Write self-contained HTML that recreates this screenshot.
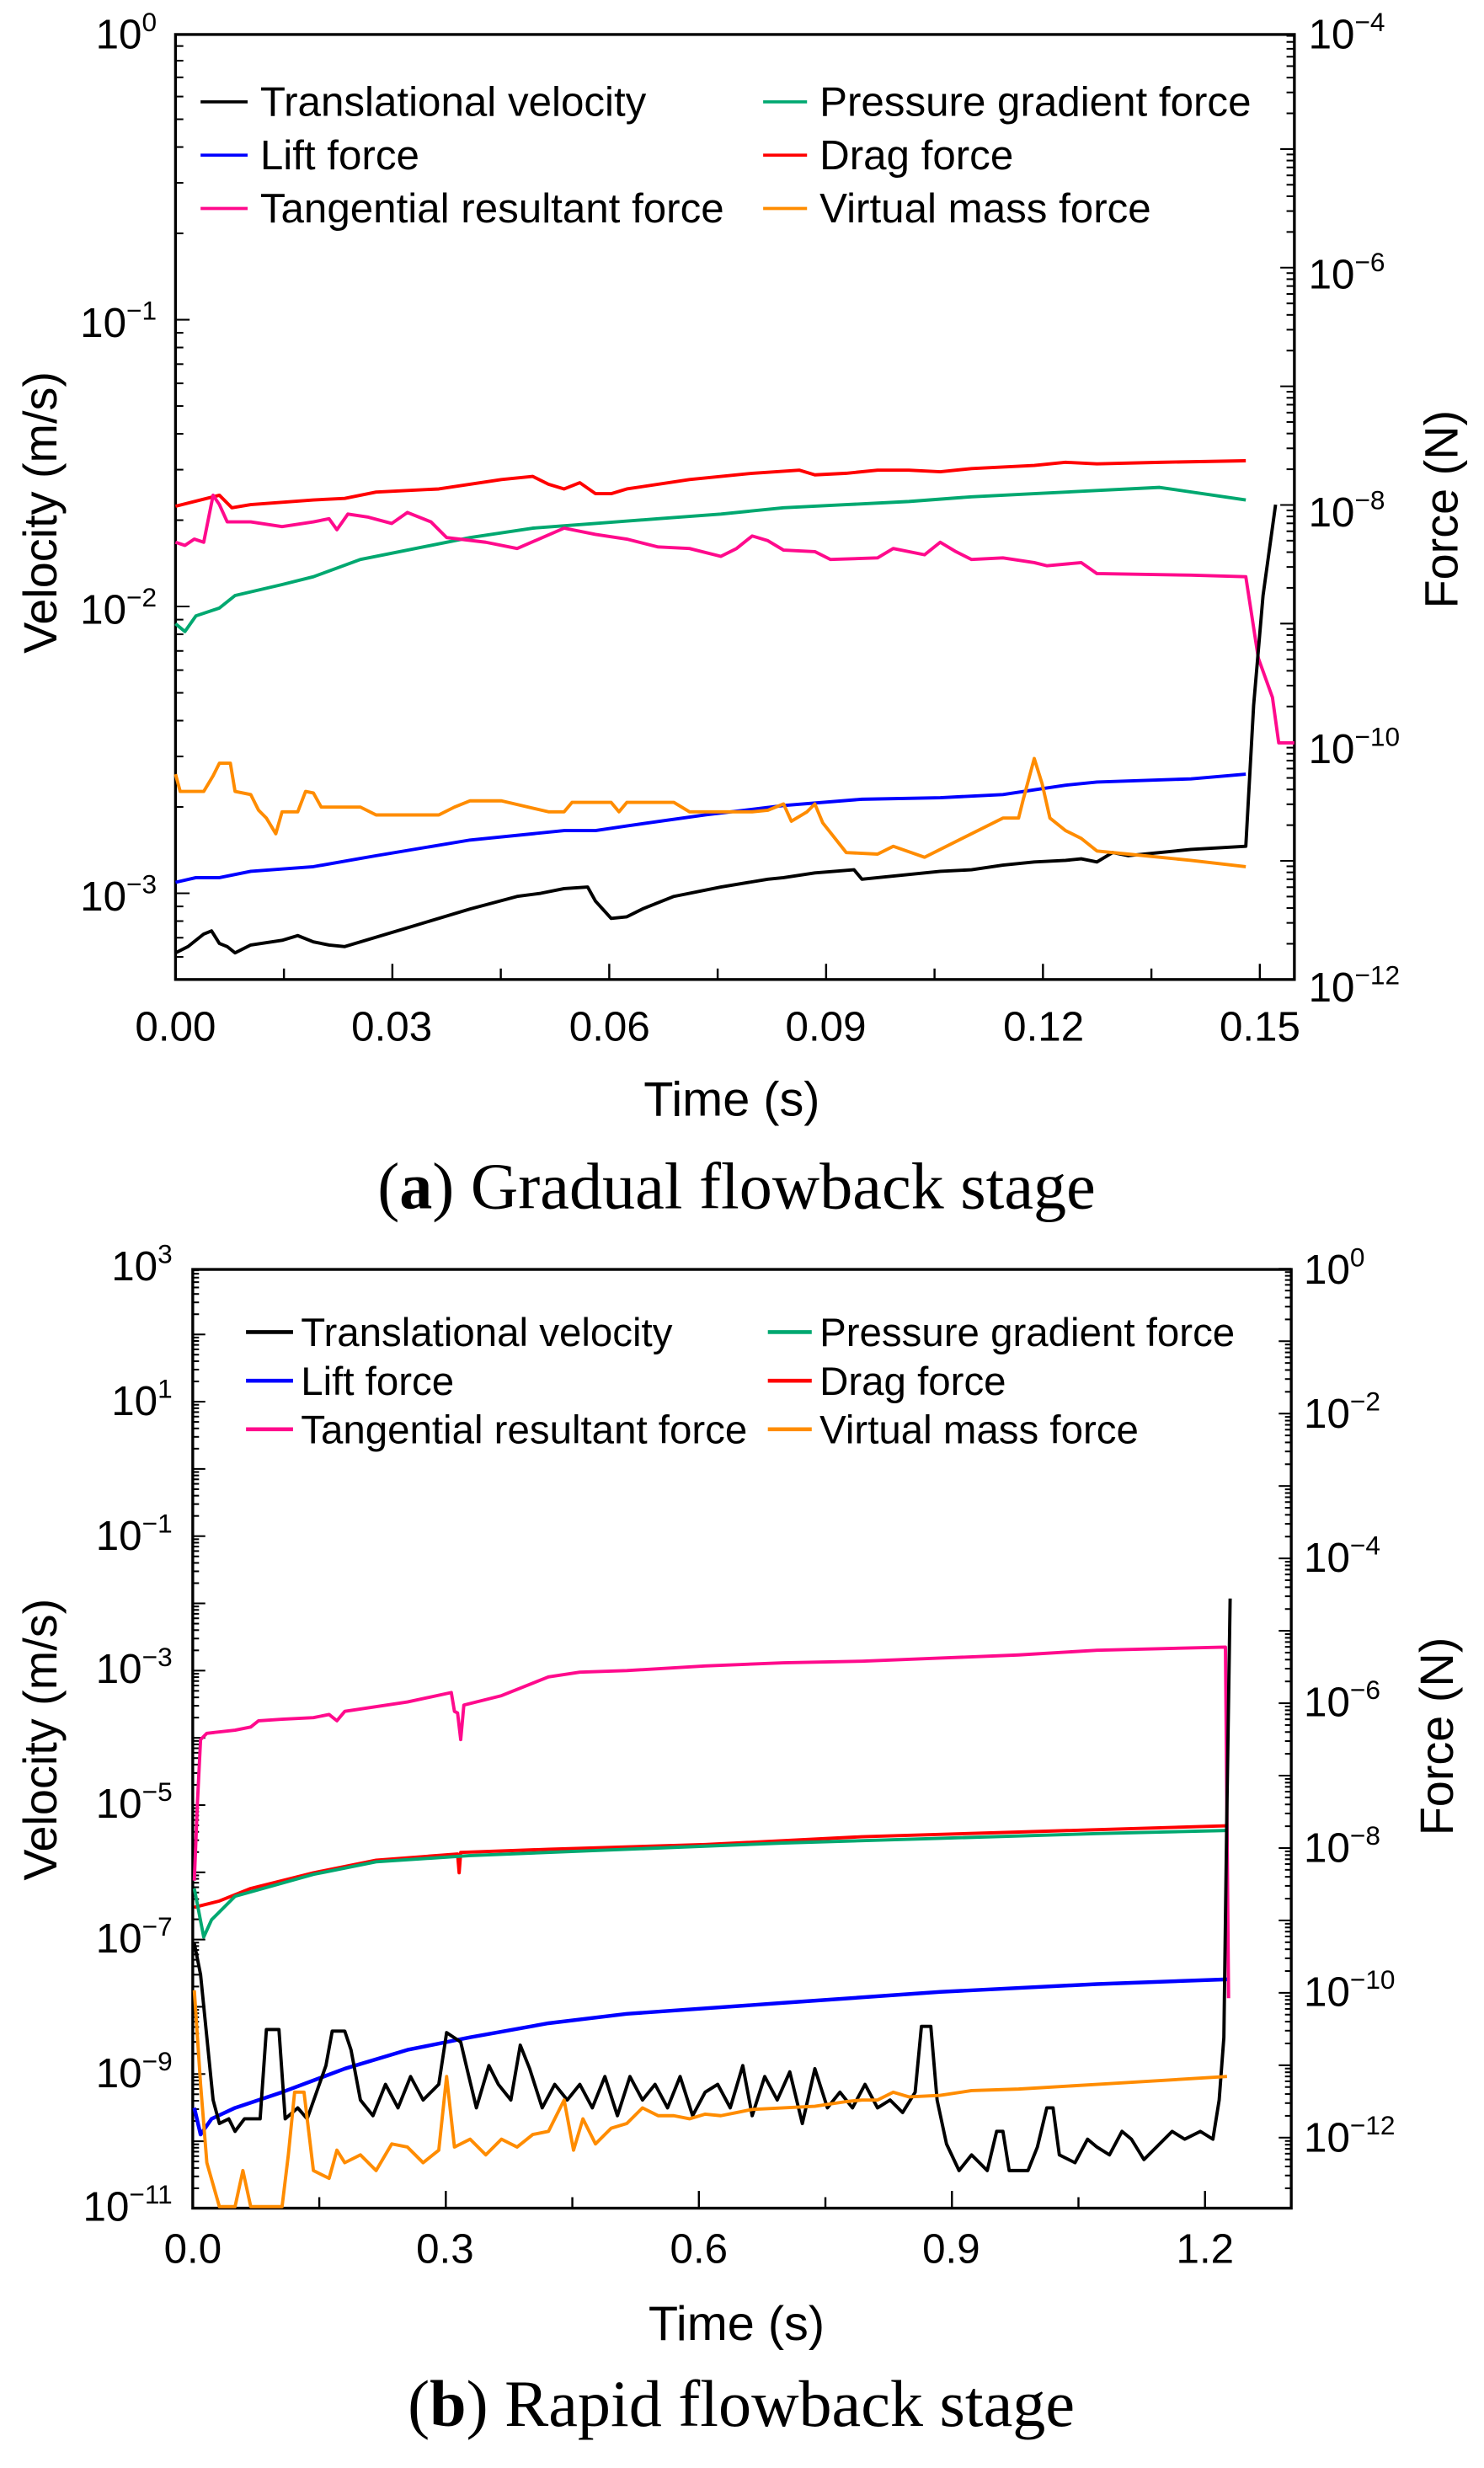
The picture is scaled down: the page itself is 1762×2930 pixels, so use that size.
<!DOCTYPE html>
<html><head><meta charset="utf-8">
<style>
html,body{margin:0;padding:0;background:#fff;}
svg{display:block;}
text{font-family:"Liberation Sans",Arial,sans-serif;fill:#000;}
.cap{font-family:"Liberation Serif",serif;font-size:42px;}
</style></head>
<body>
<svg id="s" width="1762" height="2930" viewBox="0 0 947 1574.8" preserveAspectRatio="none" xmlns="http://www.w3.org/2000/svg">
<rect width="947" height="1575" fill="#fff"/>
<g id="g"></g>
<!-- Panel a labels -->
<g font-size="26.5">
<text x="100" y="31" text-anchor="end">10<tspan dy="-11" font-size="17">0</tspan></text>
<text x="100" y="215" text-anchor="end">10<tspan dy="-11" font-size="17">−1</tspan></text>
<text x="100" y="398" text-anchor="end">10<tspan dy="-11" font-size="17">−2</tspan></text>
<text x="100" y="581" text-anchor="end">10<tspan dy="-11" font-size="17">−3</tspan></text>
<text x="835" y="31">10<tspan dy="-11" font-size="17">−4</tspan></text>
<text x="835" y="184">10<tspan dy="-11" font-size="17">−6</tspan></text>
<text x="835" y="336">10<tspan dy="-11" font-size="17">−8</tspan></text>
<text x="835" y="487">10<tspan dy="-11" font-size="17">−10</tspan></text>
<text x="835" y="639">10<tspan dy="-11" font-size="17">−12</tspan></text>
<text x="112" y="664" text-anchor="middle">0.00</text>
<text x="250" y="664" text-anchor="middle">0.03</text>
<text x="389" y="664" text-anchor="middle">0.06</text>
<text x="527" y="664" text-anchor="middle">0.09</text>
<text x="666" y="664" text-anchor="middle">0.12</text>
<text x="804" y="664" text-anchor="middle">0.15</text>
</g>
<text x="467" y="712" font-size="31" text-anchor="middle">Time (s)</text>
<text transform="translate(36,327) rotate(-90)" font-size="30" text-anchor="middle">Velocity (m/s)</text>
<text transform="translate(930,325) rotate(-90)" font-size="30" text-anchor="middle">Force (N)</text>
<text class="cap" x="470" y="771" text-anchor="middle">(<tspan font-weight="bold">a</tspan>) Gradual flowback stage</text>
<g font-size="26.5">
<line x1="128" y1="65" x2="158" y2="65" stroke="#000" stroke-width="2"/><text x="166" y="74">Translational velocity</text>
<line x1="128" y1="99" x2="158" y2="99" stroke="#0000ff" stroke-width="2"/><text x="166" y="108">Lift force</text>
<line x1="128" y1="133" x2="158" y2="133" stroke="#ff0a8c" stroke-width="2"/><text x="166" y="142">Tangential resultant force</text>
<line x1="487" y1="65" x2="515" y2="65" stroke="#00a870" stroke-width="2"/><text x="523" y="74">Pressure gradient force</text>
<line x1="487" y1="99" x2="515" y2="99" stroke="#ff0000" stroke-width="2"/><text x="523" y="108">Drag force</text>
<line x1="487" y1="133" x2="515" y2="133" stroke="#ff8c00" stroke-width="2"/><text x="523" y="142">Virtual mass force</text>
</g>
<!-- Panel b labels -->
<g font-size="26.5">
<text x="110" y="817" text-anchor="end">10<tspan dy="-11" font-size="17">3</tspan></text>
<text x="110" y="903" text-anchor="end">10<tspan dy="-11" font-size="17">1</tspan></text>
<text x="110" y="989" text-anchor="end">10<tspan dy="-11" font-size="17">−1</tspan></text>
<text x="110" y="1074" text-anchor="end">10<tspan dy="-11" font-size="17">−3</tspan></text>
<text x="110" y="1160" text-anchor="end">10<tspan dy="-11" font-size="17">−5</tspan></text>
<text x="110" y="1246" text-anchor="end">10<tspan dy="-11" font-size="17">−7</tspan></text>
<text x="110" y="1332" text-anchor="end">10<tspan dy="-11" font-size="17">−9</tspan></text>
<text x="110" y="1417" text-anchor="end">10<tspan dy="-11" font-size="17">−11</tspan></text>
<text x="832" y="819">10<tspan dy="-11" font-size="17">0</tspan></text>
<text x="832" y="911">10<tspan dy="-11" font-size="17">−2</tspan></text>
<text x="832" y="1003">10<tspan dy="-11" font-size="17">−4</tspan></text>
<text x="832" y="1095">10<tspan dy="-11" font-size="17">−6</tspan></text>
<text x="832" y="1188">10<tspan dy="-11" font-size="17">−8</tspan></text>
<text x="832" y="1280">10<tspan dy="-11" font-size="17">−10</tspan></text>
<text x="832" y="1373">10<tspan dy="-11" font-size="17">−12</tspan></text>
<text x="123" y="1444" text-anchor="middle">0.0</text>
<text x="284" y="1444" text-anchor="middle">0.3</text>
<text x="446" y="1444" text-anchor="middle">0.6</text>
<text x="607" y="1444" text-anchor="middle">0.9</text>
<text x="769" y="1444" text-anchor="middle">1.2</text>
</g>
<text x="470" y="1493" font-size="31" text-anchor="middle">Time (s)</text>
<text transform="translate(36,1110) rotate(-90)" font-size="30" text-anchor="middle">Velocity (m/s)</text>
<text transform="translate(927,1108) rotate(-90)" font-size="30" text-anchor="middle">Force (N)</text>
<text class="cap" x="473" y="1548" text-anchor="middle">(<tspan font-weight="bold">b</tspan>) Rapid flowback stage</text>
<g font-size="25.5">
<line x1="157" y1="850" x2="187" y2="850" stroke="#000" stroke-width="2.5"/><text x="192" y="859">Translational velocity</text>
<line x1="157" y1="881" x2="187" y2="881" stroke="#0000ff" stroke-width="2.5"/><text x="192" y="890">Lift force</text>
<line x1="157" y1="912" x2="187" y2="912" stroke="#ff0a8c" stroke-width="2.5"/><text x="192" y="921">Tangential resultant force</text>
<line x1="490" y1="850" x2="518" y2="850" stroke="#00a870" stroke-width="2.5"/><text x="523" y="859">Pressure gradient force</text>
<line x1="490" y1="881" x2="518" y2="881" stroke="#ff0000" stroke-width="2.5"/><text x="523" y="890">Drag force</text>
<line x1="490" y1="912" x2="518" y2="912" stroke="#ff8c00" stroke-width="2.5"/><text x="523" y="921">Virtual mass force</text>
</g>
</svg>
<script>
var g=document.getElementById('g'),NS='http://www.w3.org/2000/svg';
function el(t,a){var e=document.createElementNS(NS,t);for(var k in a)e.setAttribute(k,a[k]);g.appendChild(e);return e;}
function ln(x1,y1,x2,y2,w){el('line',{x1:x1,y1:y1,x2:x2,y2:y2,stroke:'#000','stroke-width':w||1.2});}
function pl(pts,c,w){el('polyline',{points:pts.map(function(p){return p.join(',')}).join(' '),fill:'none',stroke:c,'stroke-width':w||2.1,'stroke-linejoin':'round'});}
function logTicks(x,dir,yTop,yBot,d0,yd0,ppd,lo,hi,majLen,minLen){
 for(var d=lo;d<=hi;d++){for(var m=1;m<10;m++){var y=yd0-(d-d0+Math.log10(m))*ppd;if(y<yTop-0.5||y>yBot+0.5)continue;var L=m==1?majLen:minLen;ln(x,y,x+dir*L,y,1.1);}}
}
var ax0=112,ax1=826,ay0=22,ay1=625;
el('rect',{x:ax0,y:ay0,width:ax1-ax0,height:ay1-ay0,fill:'none',stroke:'#000','stroke-width':1.8});
logTicks(ax0,1,ay0,ay1,-3,570,183,-4,0,9,5);
logTicks(ax1,-1,ay0,ay1,-12,625,75.7,-12,-4,9,5);
for(var i=1;i<=10;i++){var x=112+i*0.015*4613;if(x<ax1)ln(x,ay1,x,ay1-(i%2==0?10:7),1.3);}
var bx0=123,bx1=824,by0=810,by1=1409;
el('rect',{x:bx0,y:by0,width:bx1-bx0,height:by1-by0,fill:'none',stroke:'#000','stroke-width':1.8});
logTicks(bx0,1,by0,by1,-3,1066,42.9,-12,3,8,4);
logTicks(bx1,-1,by0,by1,-12,1364,46.2,-14,0,8,4);
for(var i=1;i<=9;i++){var x=123+i*0.15*538.3;if(x<bx1)ln(x,by1,x,by1-(i%2==0?11:7),1.3);}
pl([[112,323],[140,316],[148,324],[160,322],[200,319],[220,318],[240,314],[280,312],[320,306],[340,304],[350,309],[360,312],[370,308],[380,315],[390,315],[400,312],[440,306],[480,302],[510,300],[520,303],[540,302],[560,300],[580,300],[600,301],[620,299],[660,297],[680,295],[700,296],[740,295],[795,294]],'#ff0000');
pl([[112,398],[118,403],[125,393],[140,388],[150,380],[180,373],[200,368],[230,357],[260,351],[300,343],[340,337],[380,334],[420,331],[460,328],[500,324],[540,322],[580,320],[620,317],[660,315],[700,313],[740,311],[795,319]],'#00a870');
pl([[112,346],[118,348],[124,344],[130,346],[136,316],[140,322],[145,333],[160,333],[180,336],[200,333],[210,331],[215,338],[222,328],[235,330],[250,334],[260,327],[275,333],[285,343],[310,346],[330,350],[360,337],[380,341],[400,344],[420,349],[440,350],[460,355],[470,350],[480,342],[490,345],[500,351],[520,352],[530,357],[560,356],[570,350],[590,354],[600,346],[610,352],[620,357],[640,356],[660,359],[668,361],[690,359],[700,366],[760,367],[795,368],[803,420],[812,445],[816,474],[826,474]],'#ff0a8c');
pl([[112,608],[120,604],[130,596],[135,594],[140,602],[145,604],[150,608],[160,603],[180,600],[190,597],[200,601],[210,603],[220,604],[240,598],[260,592],[300,580],[330,572],[345,570],[360,567],[375,566],[380,575],[390,586],[400,585],[410,580],[430,572],[460,566],[490,561],[500,560],[520,557],[545,555],[550,561],[560,560],[600,556],[620,555],[640,552],[660,550],[680,549],[690,548],[700,550],[710,544],[720,546],[760,542],[795,540],[800,450],[806,380],[814,322]],'#000');
pl([[112,563],[125,560],[140,560],[160,556],[200,553],[240,546],[300,536],[360,530],[380,530],[400,527],[450,520],[500,514],[550,510],[600,509],[640,507],[660,504],[680,501],[700,499],[760,497],[795,494]],'#0000ff');
pl([[112,494],[115,505],[125,505],[130,505],[136,495],[140,487],[147,487],[150,505],[160,507],[165,517],[170,522],[176,532],[180,518],[190,518],[195,505],[200,506],[205,515],[230,515],[240,520],[280,520],[290,515],[300,511],[320,511],[350,518],[360,518],[365,512],[390,512],[395,518],[400,512],[430,512],[440,518],[480,518],[490,517],[500,513],[505,524],[515,518],[520,513],[525,525],[540,544],[560,545],[570,540],[590,547],[640,522],[650,522],[653,510],[660,484],[665,500],[670,522],[680,530],[690,535],[700,543],[720,545],[760,549],[795,553]],'#ff8c00');
pl([[124,1200],[126,1150],[128,1110],[132,1106],[150,1104],[160,1102],[165,1098],[180,1097],[200,1096],[210,1094],[215,1098],[220,1092],[260,1086],[288,1080],[290,1092],[292,1093],[294,1110],[296,1088],[320,1082],[350,1070],[370,1067],[400,1066],[450,1063],[500,1061],[550,1060],[600,1058],[650,1056],[700,1053],[782,1051],[784,1275]],'#ff0a8c');
pl([[124,1217],[140,1213],[160,1205],[200,1195],[240,1187],[292,1183],[293,1195],[294,1182],[350,1180],[450,1177],[550,1172],[650,1169],[783,1165]],'#ff0000');
pl([[124,1205],[130,1236],[135,1225],[150,1210],[200,1196],[240,1188],[300,1184],[400,1180],[500,1176],[600,1173],[700,1170],[783,1168]],'#00a870');
pl([[124,1345],[128,1362],[135,1352],[150,1345],[180,1335],[220,1320],[260,1308],[300,1300],[350,1291],[400,1285],[500,1278],[600,1271],[700,1266],[783,1263]],'#0000ff',2.4);
// black noisy step series
(function(){
var k=[[124,1240],[128,1260],[132,1300],[136,1340],[140,1355],[146,1352],[150,1360],[156,1352],[166,1352],[170,1295],[178,1295],[182,1352],[190,1345],[196,1352],[202,1335],[208,1318],[212,1296],[220,1296],[224,1308],[230,1340],[238,1350],[246,1330],[254,1345],[262,1325],[270,1340],[280,1330],[285,1297],[294,1303],[298,1320],[304,1345],[312,1318],[318,1330],[326,1340],[332,1305],[338,1320],[346,1345],[354,1330],[362,1340],[370,1330],[378,1345],[386,1325],[394,1350],[402,1325],[410,1340],[418,1330],[426,1345],[434,1325],[442,1350],[450,1335],[458,1330],[466,1345],[474,1318],[480,1350],[488,1325],[496,1340],[504,1322],[512,1355],[520,1320],[528,1345],[536,1335],[544,1345],[552,1330],[560,1345],[568,1340],[576,1348],[584,1335],[588,1293],[594,1293],[598,1340],[604,1368],[612,1385],[620,1375],[630,1385],[636,1360],[640,1360],[644,1385],[656,1385],[662,1370],[668,1345],[672,1345],[676,1375],[686,1380],[694,1365],[700,1370],[708,1375],[716,1360],[722,1365],[730,1378],[740,1368],[748,1360],[756,1365],[766,1360],[774,1365],[778,1340],[781,1300],[783,1150],[785,1020]];
pl(k,'#000',2.1);})();
pl([[124,1270],[128,1330],[132,1380],[140,1408],[150,1408],[155,1385],[160,1408],[180,1408],[184,1375],[188,1335],[194,1335],[200,1385],[210,1390],[215,1372],[220,1380],[230,1375],[240,1385],[250,1368],[260,1370],[270,1380],[280,1372],[285,1325],[290,1370],[300,1365],[310,1375],[320,1365],[330,1370],[340,1362],[350,1360],[360,1340],[366,1372],[372,1352],[380,1368],[390,1358],[400,1355],[410,1345],[420,1350],[430,1350],[440,1352],[450,1349],[460,1350],[470,1348],[480,1346],[500,1345],[520,1344],[540,1341],[550,1340],[560,1340],[570,1335],[580,1338],[600,1337],[620,1334],[650,1333],[700,1330],[783,1325]],'#ff8c00');
</script>
</body></html>
